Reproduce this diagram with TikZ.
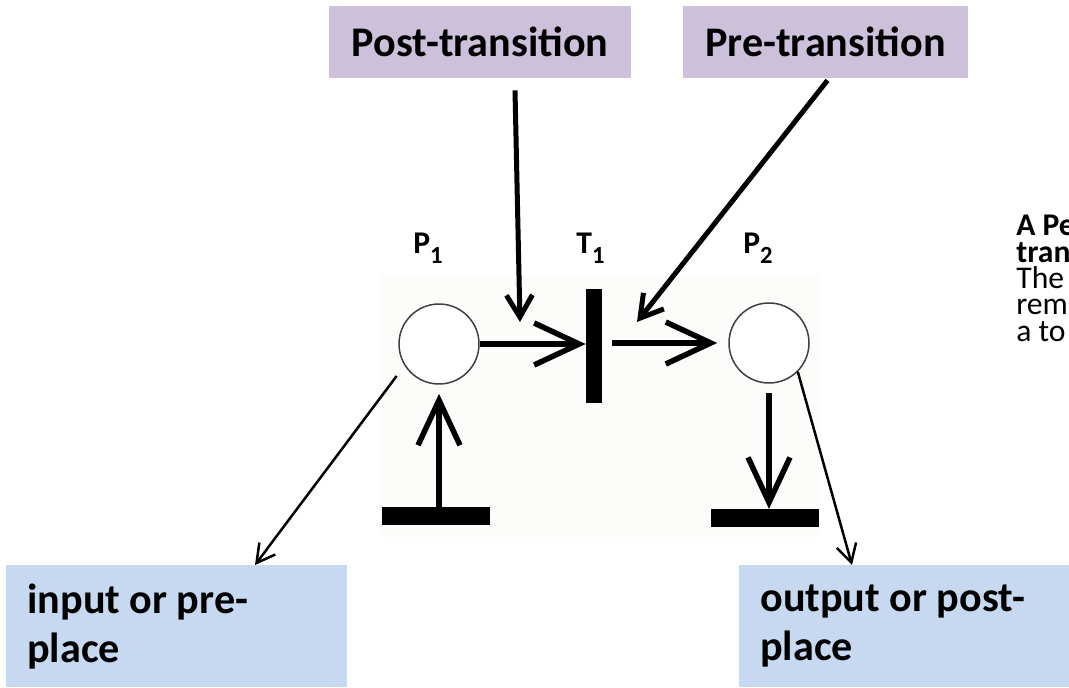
\documentclass[tikz,border=0pt]{standalone}
\usepackage{fontspec}
\setmainfont{Carlito}
\usetikzlibrary{arrows.meta, calc}

\definecolor{lilac}{RGB}{204,192,218}
\definecolor{paleblue}{RGB}{198,217,241}
\definecolor{netback}{RGB}{252,252,250}

\newcommand{\netlabel}[2]{\textbf{#1\raisebox{-6.2pt}{\fontsize{14}{14}\selectfont #2}}}

\begin{document}
\begin{tikzpicture}[x=0.02cm, y=-0.02cm,
  place/.style={circle, draw=black!75, line width=0.03cm, fill=white, minimum size=1.6cm, inner sep=0},
  trans/.style={rectangle, fill=black, minimum width=0.32cm, minimum height=2.3cm, inner sep=0},
  bar/.style={rectangle, fill=black, minimum width=2.18cm, minimum height=0.35cm, inner sep=0},
  netarrow/.style={-{Straight Barb[length=0.9cm, width=0.84cm]}, line width=0.11cm},
  ptarrow/.style={-{Straight Barb[length=0.44cm, width=0.52cm]}, line width=0.1cm},
  thinarrow/.style={-{Straight Barb[length=0.36cm, width=0.4cm]}, line width=0.05cm},
  lilacbox/.style={fill=lilac, minimum height=1.44cm, inner sep=0, font=\fontsize{24}{28}\selectfont\bfseries},
  bluebox/.style={fill=paleblue, text width=5.98cm, inner xsep=0.42cm, inner ysep=0, minimum height=2.44cm, align=flush left, font=\fontsize{24}{27.8}\selectfont\bfseries}]

\useasboundingbox (0,0) rectangle (1069,687);

% pasted picture of the net
\fill[netback] (380,275) rectangle (820,537);

\node[lilacbox, minimum width=6.04cm] (postbox) at (480,42) {Post-transition};
\node[lilacbox, minimum width=5.7cm] (prebox) at (825.5,42) {Pre-transition};

\node[place] (p1) at (439,344) {};
\node[trans] (t1) at (594,346) {};
\node[place] (p2) at (769,343) {};
\node[bar] (src) at (436,516) {};
\node[bar] (snk) at (765,518) {};

\node[anchor=base west, inner sep=0, font=\fontsize{18}{18}\selectfont] (lp1) at (413,253) {\netlabel{P}{1}};
\node[anchor=base west, inner sep=0, font=\fontsize{18}{18}\selectfont] (lt1) at (576,253) {\netlabel{T}{1}};
\node[anchor=base west, inner sep=0, font=\fontsize{18}{18}\selectfont] (lp2) at (743,253) {\netlabel{P}{2}};

\draw[netarrow] (p1.east) -- (p1.east -| t1.west);
\draw[netarrow, shorten <=0.2cm, shorten >=0.22cm] (t1.east |- p2) -- (p2.west);
\draw[netarrow, shorten >=0.18cm] (src.north -| p1) -- (p1.south);
\draw[netarrow, shorten <=0.18cm] (p2.south) -- (snk.north -| p2);

\coordinate (postend) at (520,322);
\coordinate (preend) at (637,322);
\draw[ptarrow] ($(postbox.south)+(35,12)$) -- (postend);
\draw[ptarrow] ($(prebox.south)+(2,2)$) -- (preend);

\node[bluebox, anchor=north west] (inbox) at (6,565) {input or pre-\\place};
\node[bluebox, anchor=north west] (outbox) at (739,565) {output or post-\\place};

\draw[thinarrow, shorten <=0.26cm] (p1.212) -- ($(inbox.north west)+(249,0)$);
\draw[thinarrow] (p2.-45) -- ($(outbox.north west)+(113,0)$);

\node[anchor=north west, inner sep=0] (note) at (1016,215)
  {\parbox[t]{2cm}{\fontsize{18}{15}\selectfont\raggedright
   \textbf{A Pe}\\\textbf{tran}\\The\\rem\\a to}};
\end{tikzpicture}
\end{document}
